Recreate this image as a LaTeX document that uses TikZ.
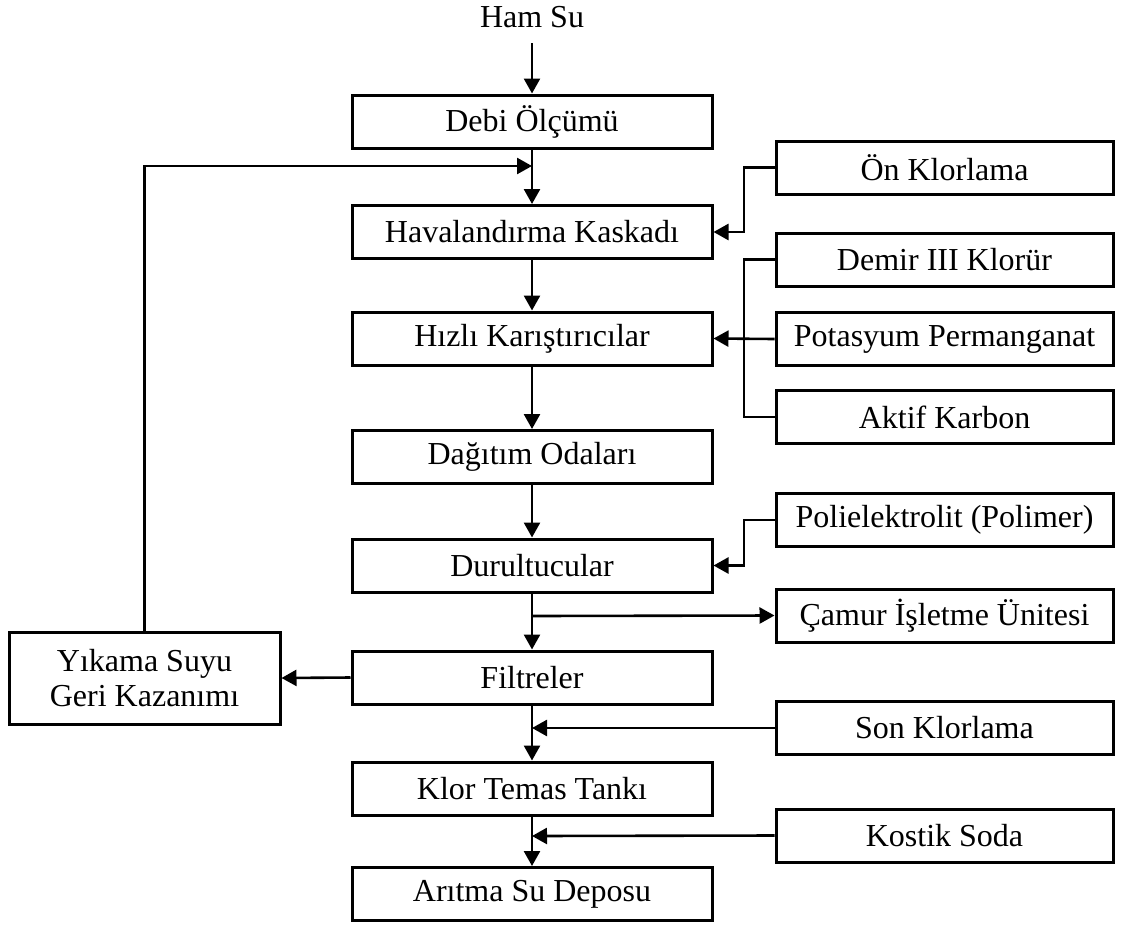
\documentclass[tikz,border=0pt]{standalone}
\usepackage{fontspec}
\setmainfont{Liberation Serif}
\usetikzlibrary{arrows.meta}
\begin{document}
\begin{tikzpicture}[x=1pt,y=-1pt,
  txt/.style={font=\fontsize{32}{35}\selectfont},
  box/.style={draw, line width=3pt, minimum height=53pt, inner sep=0pt,
    txt, align=center},
  mainbox/.style={box, minimum width=360pt},
  sidebox/.style={box, minimum width=337pt},
  flow/.style={line width=2.6pt, -{Triangle[length=15pt,width=16pt]}},
  feed/.style={line width=2.6pt}
]
\useasboundingbox (0,0) rectangle (1129,929);

% main process column
\node[txt, inner sep=0pt, anchor=base] (ham) at (532,27) {Ham Su};
\node[mainbox] (debi) at (532,121.5) {Debi Ölçümü};
\node[mainbox] (hav)  at (532,232)   {Havalandırma Kaskadı};
\node[mainbox] (hiz)  at (532,338.5) {Hızlı Karıştırıcılar};
\node[mainbox] (dag)  at (532,457)   {Dağıtım Odaları};
\node[mainbox] (dur)  at (532,565.5) {Durultucular};
\node[mainbox] (fil)  at (532,677.5) {Filtreler};
\node[mainbox] (klor) at (532,788.5) {Klor Temas Tankı};
\node[mainbox] (ari)  at (532,894)   {Arıtma Su Deposu};

% chemical feeds and side units
\node[sidebox] (on)   at (944.5,167.5) {Ön Klorlama};
\node[sidebox] (dem)  at (944.5,259.5) {Demir III Klorür};
\node[sidebox] (pot)  at (944.5,339)   {Potasyum Permanganat};
\node[sidebox] (akt)  at (944.5,417)   {Aktif Karbon};
\node[sidebox] (poli) at (944.5,520)   {Polielektrolit (Polimer)};
\node[sidebox] (cam)  at (944.5,615.5) {Çamur İşletme Ünitesi};
\node[sidebox] (son)  at (944.5,728)   {Son Klorlama};
\node[sidebox] (kos)  at (944.5,835.5) {Kostik Soda};

% wash water recovery
\node[box, minimum width=271pt, minimum height=92pt] (yik) at (144.5,678)
  {Yıkama Suyu\\Geri Kazanımı};

% junction points
\coordinate (jfeed) at (532,166);
\coordinate (jcam)  at (532,616);
\coordinate (json)  at (532,728);
\coordinate (jkos)  at (532,836);
\coordinate (busA)  at (744,167.5);
\coordinate (busB)  at (744,232);
\coordinate (busC)  at (744,259.5);
\coordinate (busD)  at (744,417);
\coordinate (busE)  at (744,520);
\coordinate (busF)  at (744,565.5);

% main flow
\draw[flow] ([yshift=-16pt]ham.base) -- (debi.north);
\draw[flow] (debi) -- (hav);
\draw[flow] (hav) -- (hiz);
\draw[flow] (hiz) -- (dag);
\draw[flow] (dag) -- (dur);
\draw[flow] (dur) -- (fil);
\draw[flow] (fil) -- (klor);
\draw[flow] (klor) -- (ari);

% recycled wash water
\draw[flow] (fil.west) -- (yik.east);
\draw[flow] (yik.north) |- (jfeed);

% pre-chlorination
\draw[flow] (on.west) -- (busA) -- (busB) -- (hav.east);

% coagulation chemicals
\draw[feed] (dem.west) -- (busC) -- (busD) -- (akt.west);
\draw[flow] (pot.west) -- (hiz.east);

% polymer dosing
\draw[flow] (poli.west) -- (busE) -- (busF) -- (dur.east);

% sludge line
\draw[flow] (jcam) -- (cam.west);

% post-chlorination and pH correction
\draw[flow] (son.west) -- (json);
\draw[flow] (kos.west) -- (jkos);
\end{tikzpicture}
\end{document}
